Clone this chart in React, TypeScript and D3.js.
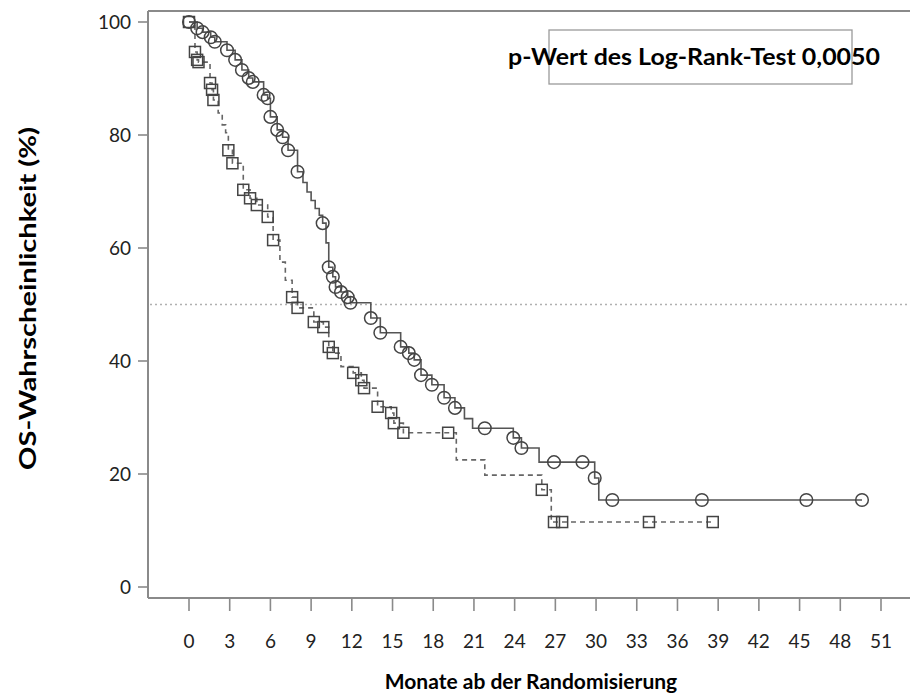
import React from "react";
import * as d3 from "d3";

const monthTicks = [0, 3, 6, 9, 12, 15, 18, 21, 24, 27, 30, 33, 36, 39, 42, 45, 48, 51];
const survTicks = [0, 20, 40, 60, 80, 100];

// arm A (solid line, circles): months, OS %, 1 = marker drawn
const armAMonths = [0, 0.6, 1.0, 1.6, 1.9, 2.8, 3.4, 3.9, 4.4, 4.7, 5.5, 5.8, 6.0, 6.5, 6.9, 7.3, 8.0, 8.4, 8.7, 9.0, 9.3, 9.6, 9.85, 10.1, 10.3, 10.6, 10.8, 11.2, 11.7, 11.9, 13.4, 14.1, 15.6, 16.2, 16.6, 17.1, 17.9, 18.8, 19.6, 20.3, 20.9, 21.8, 23.4, 23.9, 24.5, 25.8, 26.9, 29.0, 29.9, 30.2, 31.2, 37.8, 45.5, 49.6];
const armASurv = [100, 98.9, 98.2, 97.3, 96.5, 95.0, 93.3, 91.5, 90.1, 89.4, 87.1, 86.5, 83.2, 80.9, 79.6, 77.3, 73.5, 71.6, 69.9, 68.4, 67.0, 65.8, 64.4, 60.9, 56.6, 54.9, 53.1, 52.2, 51.3, 50.3, 47.6, 45.0, 42.5, 41.4, 40.2, 37.5, 35.8, 33.5, 31.7, 29.8, 28.1, 28.1, 28.1, 26.4, 24.6, 22.1, 22.1, 22.1, 19.3, 15.4, 15.4, 15.4, 15.4, 15.4];
const armAMark = [1, 1, 1, 1, 1, 1, 1, 1, 1, 1, 1, 1, 1, 1, 1, 1, 1, 0, 0, 0, 0, 0, 1, 0, 1, 1, 1, 1, 1, 1, 1, 1, 1, 1, 1, 1, 1, 1, 1, 0, 0, 1, 0, 1, 1, 0, 1, 1, 1, 0, 1, 1, 1, 1];

// arm B (dashed line, squares)
const armBMonths = [0, 0.44, 0.6, 0.7, 1.55, 1.7, 1.8, 2.15, 2.45, 2.7, 2.9, 3.2, 4.0, 4.5, 5.0, 5.8, 6.2, 6.7, 7.1, 7.6, 8.0, 9.2, 9.9, 10.3, 10.6, 11.2, 12.1, 12.7, 12.9, 13.9, 14.9, 15.1, 15.8, 19.1, 19.7, 21.8, 26.0, 26.7, 26.9, 27.5, 33.9, 38.6];
const armBSurv = [100, 94.7, 93.3, 92.9, 89.2, 88.0, 86.2, 83.9, 81.8, 80.4, 77.3, 75.0, 70.3, 68.8, 67.6, 65.5, 61.4, 57.5, 54.3, 51.3, 49.4, 46.9, 46.0, 42.5, 41.4, 39.0, 37.9, 36.6, 35.2, 31.9, 30.8, 29.0, 27.3, 27.3, 22.5, 19.8, 17.2, 11.5, 11.5, 11.5, 11.5, 11.5];
const armBMark = [1, 1, 1, 1, 1, 1, 1, 0, 0, 0, 1, 1, 1, 1, 1, 1, 1, 0, 0, 1, 1, 1, 1, 1, 1, 0, 1, 1, 1, 1, 1, 1, 1, 1, 0, 0, 1, 0, 1, 1, 1, 1];

const width = 910;
const height = 696;
const font = "Lato, Carlito, 'Open Sans', sans-serif";
const axisColor = "#8a8a8a";
const inkColor = "#555";

type Pt = { t: number; s: number; m: number };
const toPts = (ts: number[], ss: number[], ms: number[]): Pt[] =>
  ts.map((t, i) => ({ t, s: ss[i], m: ms[i] }));

export default function App() {
  const x = d3.scaleLinear().domain([0, 51]).range([189, 881]);
  const y = d3.scaleLinear().domain([0, 100]).range([587, 22]);

  const frameLeft = 148;
  const frameTop = 11;
  const frameBottom = 598;

  const line = d3
    .line<Pt>()
    .x((d) => x(d.t))
    .y((d) => y(d.s))
    .curve(d3.curveStepAfter);

  const armA = toPts(armAMonths, armASurv, armAMark);
  const armB = toPts(armBMonths, armBSurv, armBMark);

  return (
    <svg
      width={width}
      height={height}
      style={{ position: "absolute", left: 0, top: 0, background: "#fff" }}
      fontFamily={font}
    >
      {/* 50 % reference */}
      <line
        x1={frameLeft + 2}
        x2={width}
        y1={y(50)}
        y2={y(50)}
        stroke="#b0b0b0"
        strokeWidth={1.6}
        strokeDasharray="2,3"
      />

      {/* frame */}
      <line x1={frameLeft} x2={width} y1={frameTop} y2={frameTop} stroke={axisColor} strokeWidth={2} />
      <line x1={frameLeft} x2={frameLeft} y1={frameTop} y2={frameBottom} stroke={axisColor} strokeWidth={2} />
      <line x1={frameLeft} x2={width} y1={frameBottom} y2={frameBottom} stroke={axisColor} strokeWidth={2} />

      {/* y ticks */}
      {survTicks.map((v) => (
        <g key={v}>
          <line x1={frameLeft - 10} x2={frameLeft} y1={y(v)} y2={y(v)} stroke={axisColor} strokeWidth={1.6} />
          <text x={frameLeft - 17} y={y(v)} dy="0.35em" textAnchor="end" fontSize={19} fill="#222">
            {v}
          </text>
        </g>
      ))}

      {/* x ticks */}
      {monthTicks.map((v) => (
        <g key={v}>
          <line x1={x(v)} x2={x(v)} y1={frameBottom} y2={frameBottom + 13} stroke={axisColor} strokeWidth={1.6} />
          <text x={x(v)} y={648} textAnchor="middle" fontSize={19} fill="#222">
            {v}
          </text>
        </g>
      ))}

      {/* curves */}
      <path d={line(armB) ?? ""} fill="none" stroke="#666" strokeWidth={1.6} strokeDasharray="5,4" />
      <path d={line(armA) ?? ""} fill="none" stroke={inkColor} strokeWidth={1.6} />

      {armB
        .filter((d) => d.m)
        .map((d, i) => (
          <rect
            key={"b" + i}
            x={x(d.t) - 5.5}
            y={y(d.s) - 5.5}
            width={11}
            height={11}
            fill="none"
            stroke="#444"
            strokeWidth={1.5}
          />
        ))}
      {armA
        .filter((d) => d.m)
        .map((d, i) => (
          <circle key={"a" + i} cx={x(d.t)} cy={y(d.s)} r={6.3} fill="none" stroke="#444" strokeWidth={1.5} />
        ))}

      {/* p-value box */}
      <rect x={549} y={30} width={303} height={54} fill="none" stroke="#9a9a9a" strokeWidth={1.3} />
      <text
        x={508}
        y={65}
        fontSize={23}
        fontWeight="bold"
        fill="#000"
        textLength={372}
        lengthAdjust="spacingAndGlyphs"
      >
        p-Wert des Log-Rank-Test 0,0050
      </text>

      {/* axis titles */}
      <text
        transform={`translate(36,470) rotate(-90)`}
        fontSize={22}
        fontWeight="bold"
        fill="#000"
        textLength={343}
        lengthAdjust="spacingAndGlyphs"
      >
        OS-Wahrscheinlichkeit (%)
      </text>
      <text x={531} y={689} textAnchor="middle" fontSize={21} fontWeight="bold" fill="#000">
        Monate ab der Randomisierung
      </text>
    </svg>
  );
}
